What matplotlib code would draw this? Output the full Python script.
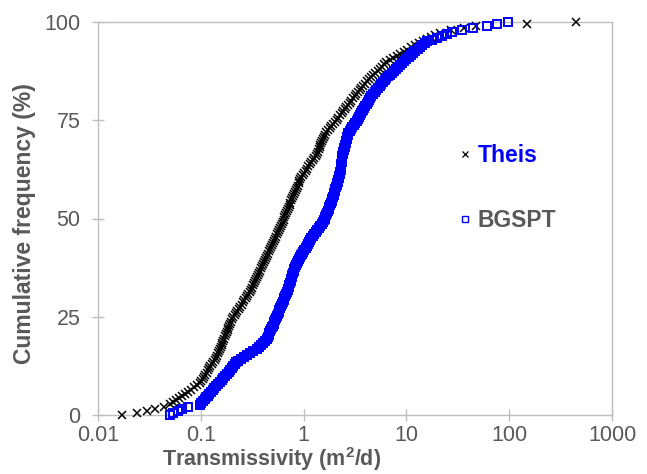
import matplotlib
matplotlib.use('Agg')
import matplotlib.pyplot as plt
from matplotlib.ticker import FixedLocator, FixedFormatter, NullLocator
from matplotlib.lines import Line2D
import numpy as np

# Sorted transmissivity values (m2/d)
theis_T = [
    0.017, 0.024, 0.030, 0.036, 0.044, 0.050,
    0.054, 0.057, 0.061, 0.066, 0.070, 0.075, 0.080, 0.086, 0.092, 0.098,
    0.101, 0.104, 0.107, 0.110, 0.114, 0.117, 0.121, 0.124, 0.128, 0.132, 0.136, 0.140, 0.144,
    0.147, 0.150, 0.153, 0.156, 0.159, 0.162, 0.165, 0.168, 0.171, 0.175, 0.178, 0.182, 0.185,
    0.189, 0.192, 0.196, 0.200,
    0.206, 0.213, 0.220, 0.227, 0.234, 0.241, 0.249, 0.257, 0.265, 0.273, 0.282, 0.291, 0.300,
    0.307, 0.314, 0.321, 0.328, 0.335, 0.343, 0.350, 0.358, 0.366, 0.374, 0.383, 0.391, 0.400,
    0.409, 0.419, 0.428, 0.438, 0.448, 0.458, 0.469, 0.480, 0.491, 0.502, 0.513, 0.525, 0.537,
    0.550, 0.562, 0.575, 0.590,
    0.602, 0.613, 0.626, 0.638, 0.650, 0.663, 0.676, 0.690, 0.703, 0.717, 0.731, 0.745, 0.760,
    0.775, 0.790,
    0.806, 0.823, 0.840, 0.857, 0.875, 0.893, 0.912, 0.931, 0.950,
    0.981, 1.013, 1.046, 1.080, 1.115, 1.151, 1.188, 1.227, 1.267, 1.308, 1.350,
    1.376, 1.402, 1.429, 1.456, 1.484, 1.512, 1.541, 1.570, 1.600,
    1.663, 1.728, 1.795, 1.866, 1.939, 2.015, 2.094, 2.176, 2.260,
    2.342, 2.426, 2.514, 2.604, 2.698, 2.796, 2.900,
    3.01, 3.13, 3.25, 3.38, 3.51, 3.65, 3.79, 3.94, 4.10,
    4.31, 4.53, 4.75, 4.99, 5.25, 5.51, 5.79, 6.09, 6.40,
    6.91, 7.47, 8.06, 8.71, 9.41, 10.2, 11.0,
    12.1, 13.2, 14.5, 15.9, 17.5, 19.1, 21.0,
    27, 36, 48, 150, 447,
]

bgspt_T = [
    0.050, 0.054, 0.060, 0.066, 0.075,
    0.098, 0.1015, 0.105, 0.109, 0.113, 0.117, 0.121, 0.126, 0.130,
    0.135, 0.141, 0.147, 0.153, 0.159, 0.166, 0.173, 0.180,
    0.186, 0.193, 0.200, 0.207, 0.214, 0.222, 0.230,
    0.246, 0.263, 0.281, 0.300,
    0.32, 0.35,
    0.366, 0.383, 0.401, 0.420, 0.440,
    0.448, 0.457, 0.465, 0.474, 0.483, 0.492, 0.501, 0.511, 0.520, 0.530, 0.540, 0.550,
    0.560, 0.571, 0.582, 0.593, 0.604, 0.615, 0.627, 0.639, 0.651, 0.663, 0.676, 0.690,
    0.699, 0.709, 0.718, 0.728, 0.737, 0.747, 0.757, 0.767, 0.778, 0.788, 0.799, 0.809, 0.820,
    0.840, 0.861, 0.882, 0.903, 0.925, 0.948, 0.971, 0.995, 1.019, 1.044, 1.070, 1.096, 1.123, 1.150,
    1.189, 1.229, 1.270, 1.313, 1.357, 1.403, 1.450, 1.499, 1.550,
    1.577, 1.604, 1.632, 1.661, 1.690, 1.719, 1.749, 1.779, 1.810, 1.842, 1.874, 1.907, 1.940,
    1.965, 1.990, 2.015, 2.041, 2.067, 2.093, 2.120, 2.147, 2.175, 2.203, 2.231, 2.260,
    2.274, 2.288, 2.302, 2.317, 2.331, 2.346, 2.360, 2.375, 2.390, 2.405, 2.420,
    2.448, 2.476, 2.504, 2.532, 2.561, 2.590, 2.620, 2.650, 2.680, 2.710,
    2.80, 2.89, 2.99, 3.09, 3.19, 3.30,
    3.38, 3.46, 3.55, 3.63, 3.72, 3.81, 3.90, 4.00, 4.10, 4.19, 4.30, 4.40,
    4.57, 4.74, 4.92, 5.11, 5.31, 5.51, 5.72, 5.94, 6.16, 6.40,
    6.69, 7.00, 7.32, 7.65, 8.00, 8.36, 8.74, 9.14, 9.56, 10.0,
    10.5, 11.1, 11.6, 12.2, 12.9, 13.5, 14.2, 15.0, 15.8,
    17.8, 20.0, 22.2, 24.6,
    28, 35, 44, 61, 76, 97,
]

series_names = ['Theis', 'BGSPT']
x_ticks = [0.01, 0.1, 1, 10, 100, 1000]
x_tick_labels = ['0.01', '0.1', '1', '10', '100', '1000']
y_ticks = [0, 25, 50, 75, 100]
x_label = 'Transmissivity (m$^2$/d)'
y_label = 'Cumulative frequency (%)'

plt.rcParams['font.family'] = ['Liberation Sans', 'DejaVu Sans']
plt.rcParams['mathtext.fontset'] = 'custom'
plt.rcParams['mathtext.rm'] = 'Liberation Sans:bold'
plt.rcParams['mathtext.bf'] = 'Liberation Sans:bold'

GREY = '#595959'
AXC = '#BFBFBF'

fig = plt.figure(figsize=(6.47, 4.74), dpi=100)
ax = fig.add_axes([98 / 647, 1 - 415 / 474, (612 - 98) / 647, (415 - 22) / 474])


def cumfreq(vals):
    v = np.sort(np.asarray(vals, dtype=float))
    n = len(v)
    return v, np.arange(n) / (n - 1) * 100.0


tx, ty = cumfreq(theis_T)
bx, by = cumfreq(bgspt_T)

ax.plot(tx, ty, linestyle='none', marker='x', markersize=5.5, markeredgewidth=1.1,
        color='black', clip_on=False, zorder=3)
ax.plot(bx, by, linestyle='none', marker='s', markersize=5.6, markeredgewidth=1.4,
        markerfacecolor='none', markeredgecolor='#0000FF', clip_on=False, zorder=4)

ax.set_xscale('log')
ax.set_xlim(0.01, 1000)
ax.set_ylim(0, 100)
ax.xaxis.set_major_locator(FixedLocator(x_ticks))
ax.xaxis.set_major_formatter(FixedFormatter(x_tick_labels))
ax.xaxis.set_minor_locator(NullLocator())
ax.set_yticks(y_ticks)
ax.set_yticklabels([str(v) for v in y_ticks])

for s in ax.spines.values():
    s.set_color(AXC)
    s.set_linewidth(1.0)

ax.tick_params(axis='both', direction='inout', length=9, width=1, color=AXC,
               labelcolor=GREY, labelsize=15.5)
ax.tick_params(axis='x', pad=2.5)
ax.tick_params(axis='y', pad=8)

ax.set_xlabel(x_label, fontsize=15.5, fontweight='bold', color=GREY)
ax.xaxis.label.set_verticalalignment('center')
ax.xaxis.set_label_coords((272 - 98) / 514, (415 - 459) / 393)
ax.set_ylabel(y_label, fontsize=16.5, fontweight='bold', color=GREY)
ax.yaxis.label.set_verticalalignment('center')
ax.yaxis.set_label_coords((25 - 98) / 514, (415 - 224) / 393)

handles = [
    Line2D([], [], linestyle='none', marker='x', markersize=4.3, markeredgewidth=0.9, color='black'),
    Line2D([], [], linestyle='none', marker='s', markersize=4.2, markeredgewidth=1.0,
           markerfacecolor='none', markeredgecolor='#0000FF'),
]
leg = ax.legend(handles, series_names, loc='upper left',
                bbox_to_anchor=((459.5 - 98) / 514, (415 - 144) / 393),
                frameon=False, borderpad=0, borderaxespad=0, handlelength=0.5,
                handletextpad=0.3, labelspacing=1.85, numpoints=1,
                prop={'size': 16.5, 'weight': 'bold'})
leg_colors = ['#0000FF', GREY]
for t, c in zip(leg.get_texts(), leg_colors):
    t.set_color(c)

fig.savefig('out.png', dpi=100)
